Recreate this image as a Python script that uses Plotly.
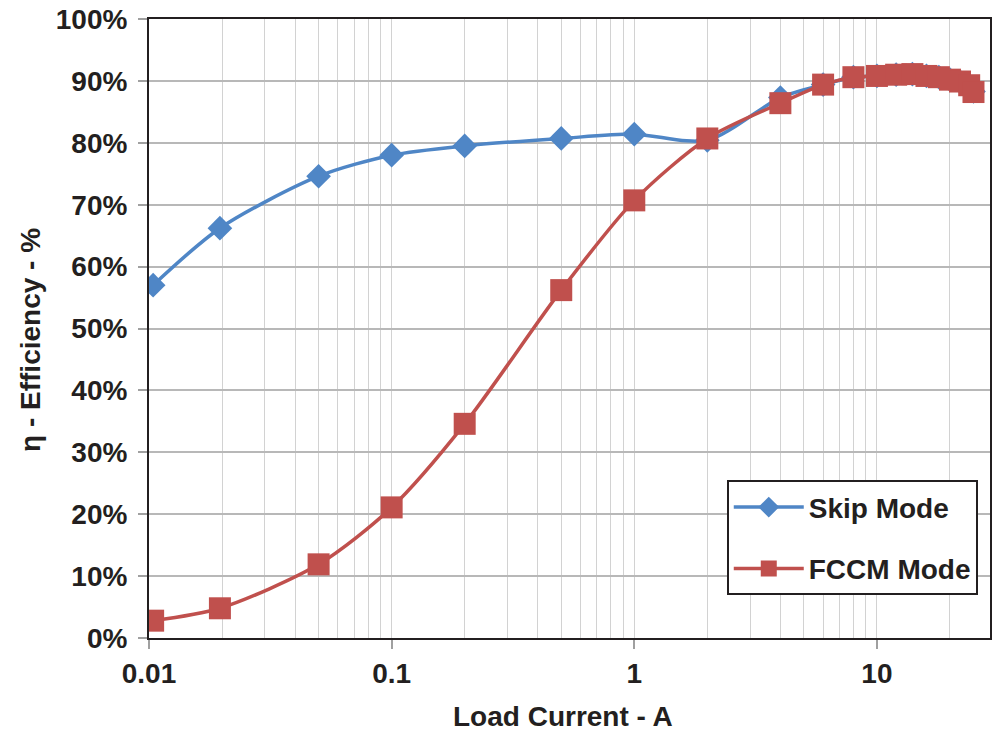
import plotly.graph_objects as go

# Data
skip_x = [0.0104, 0.0196, 0.05, 0.1, 0.2, 0.5, 1, 2, 4, 6, 8, 10, 12, 14, 16, 18, 20, 22, 24, 25]
skip_y = [57.0, 66.2, 74.6, 78.0, 79.5, 80.7, 81.4, 80.4, 87.3, 89.4, 90.6, 90.8, 91.0, 91.1, 90.8, 90.6, 90.2, 89.9, 89.3, 88.3]

fccm_x = [0.0104, 0.0196, 0.05, 0.1, 0.2, 0.5, 1, 2, 4, 6, 8, 10, 12, 14, 16, 18, 20, 22, 24, 25]
fccm_y = [2.8, 4.8, 11.9, 21.1, 34.6, 56.2, 70.7, 80.7, 86.4, 89.4, 90.6, 90.8, 91.0, 91.1, 90.8, 90.6, 90.2, 89.9, 89.3, 88.2]

x_tickvals = [0.01, 0.1, 1, 10]
x_ticktext = ["0.01", "0.1", "1", "10"]
y_tickvals = [0, 10, 20, 30, 40, 50, 60, 70, 80, 90, 100]
y_ticktext = ["0%", "10%", "20%", "30%", "40%", "50%", "60%", "70%", "80%", "90%", "100%"]

BLUE = "#4f86c6"
RED = "#c0504d"
TXT = "#231f20"
FONT = "Liberation Sans"
FS = 28

fig = go.Figure()
fig.add_trace(go.Scatter(
    x=skip_x, y=skip_y, name="Skip Mode", mode="lines+markers",
    line=dict(color=BLUE, width=3.5, shape="spline", smoothing=0.8),
    marker=dict(symbol="diamond", size=19, color=BLUE),
    legendgroup="a",
))
fig.add_trace(go.Scatter(
    x=fccm_x, y=fccm_y, name="FCCM Mode", mode="lines+markers",
    line=dict(color=RED, width=3.5, shape="spline", smoothing=0.8),
    marker=dict(symbol="square", size=22, color=RED),
    legendgroup="b",
))

fig.update_layout(
    width=996, height=731,
    margin=dict(l=149, r=4, t=17, b=93),
    paper_bgcolor="white", plot_bgcolor="white",
    font=dict(family=FONT, size=FS, color=TXT, weight="bold"),
    showlegend=True,
    legend=dict(
        x=0.687, y=0.2546, xanchor="left", yanchor="top",
        bgcolor="white", bordercolor=TXT, borderwidth=2,
        font=dict(family=FONT, size=FS, color=TXT, weight="bold"),
        traceorder="grouped", tracegroupgap=22,
        itemwidth=70,
    ),
    xaxis=dict(
        type="log", range=[-2, 1.466],
        tickvals=x_tickvals, ticktext=x_ticktext,
        ticks="outside", ticklen=9, tickwidth=2, tickcolor="#a0a0a0",
        showline=True, linecolor=TXT, linewidth=2, mirror=True,
        showgrid=True, gridcolor="#d2d2d2", gridwidth=1.3,
        minor=dict(showgrid=True, gridcolor="#d2d2d2", gridwidth=1.3, dtick="D1", ticks=""),
        zeroline=False,
        tickfont=dict(family=FONT, size=FS, color=TXT, weight="bold"),
        ticklabelstandoff=0,
    ),
    yaxis=dict(
        range=[0, 100], tickvals=y_tickvals, ticktext=y_ticktext,
        ticks="outside", ticklen=9, tickwidth=2, tickcolor="#a0a0a0",
        showline=True, linecolor=TXT, linewidth=2, mirror=True,
        showgrid=True, gridcolor="#b8b8b8", gridwidth=1.5,
        zeroline=False,
        tickfont=dict(family=FONT, size=FS, color=TXT, weight="bold"),
        ticklabelstandoff=5,
    ),
    annotations=[
        dict(text="Load Current - A", xref="paper", yref="paper",
             x=0.4925, y=-0.1545, xanchor="center", yanchor="bottom",
             showarrow=False, font=dict(family=FONT, size=FS, color=TXT, weight="bold")),
        dict(text="η - Efficiency - %", xref="paper", yref="paper",
             x=-0.1412, y=0.4819, xanchor="center", yanchor="middle", textangle=-90,
             showarrow=False, font=dict(family=FONT, size=FS, color=TXT, weight="bold")),
    ],
)

fig.write_html("out.html")
